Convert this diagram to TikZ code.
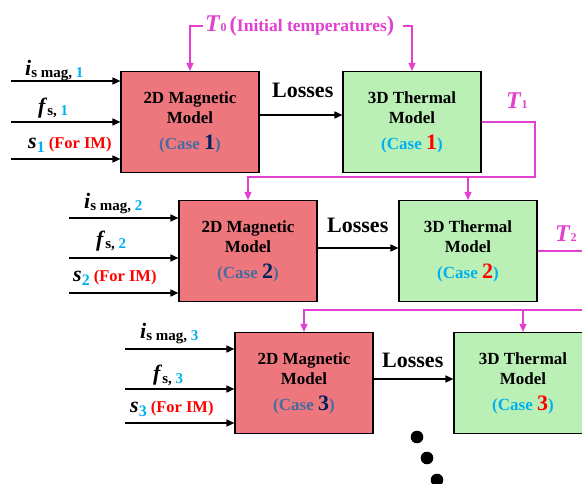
\documentclass[tikz,border=0pt]{standalone}
\usepackage{fontspec}
\setmainfont{Liberation Serif}
\usetikzlibrary{arrows.meta}
\definecolor{magfill}{RGB}{238,119,125}
\definecolor{thfill}{RGB}{186,240,181}
\definecolor{pinkc}{RGB}{226,64,206}
\definecolor{cyanc}{RGB}{0,176,240}
\definecolor{caseblue}{RGB}{68,108,160}
\definecolor{navyc}{RGB}{0,32,96}
\definecolor{redc}{RGB}{255,0,0}
\newcommand{\fs}[1]{\fontsize{#1}{#1}\selectfont}
\newcommand{\magtxt}[1]{2D Magnetic\\Model\\[5pt]{\color{caseblue}(Case {\fs{22}\color{navyc}#1})}}
\newcommand{\thtxt}[1]{3D Thermal\\Model\\[5pt]{\color{cyanc}(Case {\fs{22}\color{redc}#1})}}
\newcommand{\ilab}[1]{{\fs{22}\textit{i}}\raisebox{-2pt}{\fs{15}s mag, \textcolor{cyanc}{#1}}}
\newcommand{\flab}[1]{{\fs{22}\textit{f}}\raisebox{-2pt}{\fs{15}s, \textcolor{cyanc}{#1}}}
\newcommand{\slab}[1]{{\fs{22}\textit{s}}\raisebox{-4pt}{\fs{16}\textcolor{cyanc}{#1}}\hspace{4pt}{\fs{16.5}\color{redc}(For IM)}}
\newcommand{\Tlab}[1]{{\fs{24}\textit{T}}{\fs{12}#1}}
\begin{document}
\begin{tikzpicture}[x=1pt,y=-1pt,
  box/.style={draw=black, line width=1.1pt, minimum width=138pt, minimum height=101pt,
    inner sep=0pt, align=center, font=\fontsize{17}{20.5}\selectfont\bfseries},
  magbox/.style={box, fill=magfill},
  thbox/.style={box, fill=thfill},
  blk/.style={line width=1.6pt, -{Triangle[length=8pt,width=7pt]}},
  pk/.style={draw=pinkc, line width=1.4pt},
  pkarrow/.style={pk, -{Triangle[length=8pt,width=7pt]}},
  lab/.style={anchor=base west, inner sep=0pt, font=\bfseries},
  loss/.style={anchor=base west, inner sep=0pt, font=\fontsize{22}{22}\selectfont\bfseries},
  tl/.style={anchor=base west, inner sep=0pt, text=pinkc, font=\bfseries},
  dotc/.style={circle, fill=black, minimum size=12.6pt, inner sep=0pt}]
\useasboundingbox (0,0) rectangle (582,484);
% row 1
\node[magbox] (M1) at (190,122) {\magtxt{1}};
\node[thbox] (T1) at (412,122) {\thtxt{1}};
% row 2
\node[magbox] (M2) at (248,251) {\magtxt{2}};
\node[thbox] (T2) at (468,251) {\thtxt{2}};
% row 3
\node[magbox] (M3) at (304,383) {\magtxt{3}};
\node[thbox] (T3) at (523,383) {\thtxt{3}};
% inputs row 1
\coordinate (a11) at (11,81);
\coordinate (a12) at (11,122);
\coordinate (a13) at (11,159);
\draw[blk] (a11) -- (a11 -| M1.west);
\draw[blk] (a12) -- (a12 -| M1.west);
\draw[blk] (a13) -- (a13 -| M1.west);
\node[lab] (li1) at (25,76) {\ilab{1}};
\node[lab] (lf1) at (38,114) {\flab{1}};
\node[lab] (ls1) at (28,149) {\slab{1}};
% inputs row 2
\coordinate (a21) at (69,218);
\coordinate (a22) at (69,258);
\coordinate (a23) at (69,293);
\draw[blk] (a21) -- (a21 -| M2.west);
\draw[blk] (a22) -- (a22 -| M2.west);
\draw[blk] (a23) -- (a23 -| M2.west);
\node[lab] (li2) at (84,209) {\ilab{2}};
\node[lab] (lf2) at (96,247) {\flab{2}};
\node[lab] (ls2) at (73,282) {\slab{2}};
% inputs row 3
\coordinate (a31) at (125,349);
\coordinate (a32) at (125,389);
\coordinate (a33) at (125,423);
\draw[blk] (a31) -- (a31 -| M3.west);
\draw[blk] (a32) -- (a32 -| M3.west);
\draw[blk] (a33) -- (a33 -| M3.west);
\node[lab] (li3) at (140,338) {\ilab{3}};
\node[lab] (lf3) at (153,381) {\flab{3}};
\node[lab] (ls3) at (130,412) {\slab{3}};
% losses
\draw[blk] ([yshift=7pt]M1.east) -- ([yshift=7pt]T1.west);
\draw[blk] ([yshift=3pt]M2.east) -- ([yshift=3pt]T2.west);
\draw[blk] ([yshift=4pt]M3.east) -- ([yshift=4pt]T3.west);
\node[loss] (L1) at (272,98) {Losses};
\node[loss] (L2) at (327,233) {Losses};
\node[loss] (L3) at (382,367) {Losses};
% T0
\node[tl, anchor=west, inner sep=2pt] (T0) at (203,26) {\Tlab{0}\hspace{3pt}{\fs{22}(}{\fs{17.5}Initial temperatures}{\fs{22})}};
\coordinate (t0r) at (403,26);
\draw[pkarrow] (T0.west) -| (M1.north);
\draw[pkarrow] (t0r) -| (T1.north);
% T1
\node[tl] (T1l) at (506,109) {\Tlab{1}};
\coordinate (c1) at (535,177);
\draw[pkarrow] (T1.east) -| (c1) -| (M2.north);
\draw[pkarrow] (c1 -| T2.north) -- (T2.north);
% T2
\node[tl] (T2l) at (555,242) {\Tlab{2}};
\coordinate (c2) at (592,251);
\coordinate (c3) at (592,310);
\draw[pk] (T2.east) -- (c2);
\draw[pkarrow] (c3) -| (M3.north);
\draw[pkarrow] (c3 -| T3.north) -- (T3.north);
% dots
\node[dotc] (d1) at (417,437) {};
\node[dotc] (d2) at (427,458) {};
\node[dotc] (d3) at (437,480) {};
\end{tikzpicture}
\end{document}
